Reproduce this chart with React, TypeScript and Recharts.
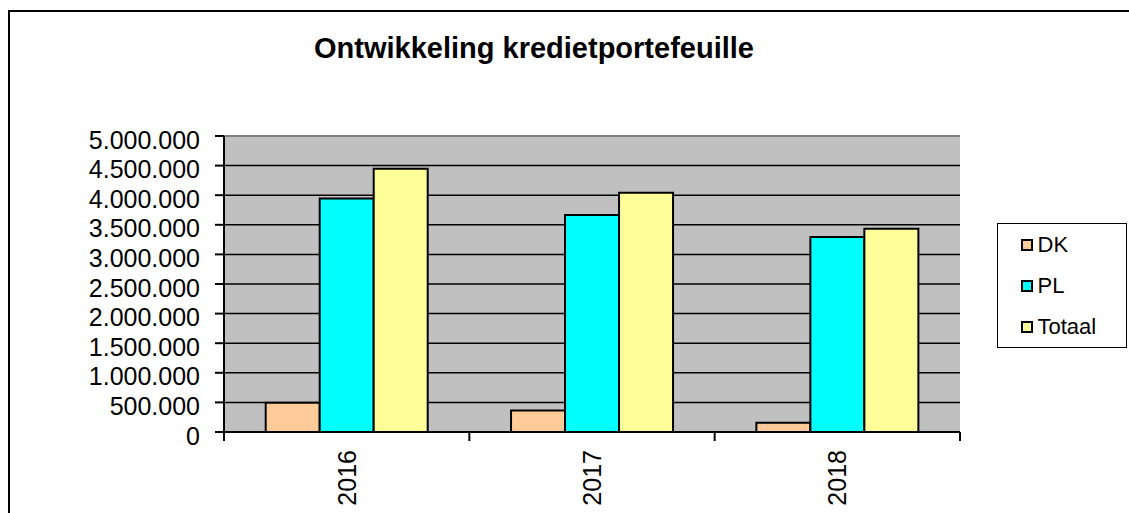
import React from 'react';
import { BarChart, Bar, XAxis, YAxis, CartesianGrid } from 'recharts';

const categories = ['2016', '2017', '2018'];
const dkValues = [494000, 364000, 157000];
const plValues = [3946000, 3664000, 3293000];
const totaalValues = [4445000, 4040000, 3434000];
const yTicks = [0, 500000, 1000000, 1500000, 2000000, 2500000, 3000000, 3500000, 4000000, 4500000, 5000000];

const seriesMeta = [
  { key: 'DK', color: '#FFCC99' },
  { key: 'PL', color: '#00FFFF' },
  { key: 'Totaal', color: '#FFFF99' },
];

const data = categories.map((c, i) => ({
  year: c,
  DK: dkValues[i],
  PL: plValues[i],
  Totaal: totaalValues[i],
}));

const FONT = '"Liberation Sans", Arial, sans-serif';

const fmt = (v: number) => String(v).replace(/\B(?=(\d{3})+(?!\d))/g, '.');

const YTick = (props: any) => {
  const { x, y, payload } = props;
  return (
    <text x={x} y={y} dy={12.5} textAnchor="end" fontSize={25} fontFamily={FONT} fill="#000">
      {fmt(payload.value)}
    </text>
  );
};

const XTick = (props: any) => {
  const { x, y, payload, index } = props;
  const half = payload && typeof payload.offset === 'number' && payload.offset > 0 ? payload.offset : (960 - 224) / categories.length / 2;
  const lx = x - half;
  const last = index === categories.length - 1;
  return (
    <g>
      <line x1={lx} y1={y} x2={lx} y2={y + 9} stroke="#000" strokeWidth={2} />
      {last && <line x1={x + half} y1={y} x2={x + half} y2={y + 9} stroke="#000" strokeWidth={2} />}
      <text
        x={x}
        y={y + 18}
        transform={`rotate(-90, ${x}, ${y + 18})`}
        textAnchor="end"
        dy="0.36em"
        fontSize={25}
        fontFamily={FONT}
        fill="#000"
      >
        {payload.value}
      </text>
    </g>
  );
};

const renderHLine = (p: any) => {
  const isTop = p.index === yTicks.length - 1 || p.y1 <= 137;
  return (
    <line
      key={p.key}
      x1={p.x1}
      y1={p.y1}
      x2={p.x2}
      y2={p.y2}
      stroke={isTop ? '#808080' : '#000'}
      strokeWidth={isTop ? 2 : 1.5}
    />
  );
};

export default function App() {
  return (
    <div style={{ position: 'absolute', left: 0, top: 0, width: 1129, height: 513, overflow: 'hidden', background: '#fff' }}>
      <style>{'html,body{margin:0;overflow:hidden;}'}</style>
      <div
        style={{
          position: 'absolute',
          left: 8,
          top: 10,
          width: 1300,
          height: 700,
          border: '2px solid #000',
          boxSizing: 'border-box',
        }}
      />
      <div
        style={{
          position: 'absolute',
          left: 0,
          top: 34,
          width: 1068,
          textAlign: 'center',
          fontFamily: FONT,
          fontWeight: 'bold',
          fontSize: 29,
          lineHeight: '29px',
          color: '#000',
        }}
      >
        Ontwikkeling kredietportefeuille
      </div>
      <div style={{ position: 'absolute', left: 0, top: 0 }}>
        <BarChart
          width={1129}
          height={513}
          data={data}
          margin={{ top: 136, right: 169, bottom: 0, left: 10 }}
          barCategoryGap="17%"
          barGap={0}
        >
          <CartesianGrid fill="#C0C0C0" vertical={false} horizontal={renderHLine} stroke="#000" />
          <XAxis
            dataKey="year"
            height={81}
            tickSize={0}
            tickMargin={0}
            tickLine={false}
            axisLine={{ stroke: '#000', strokeWidth: 2 }}
            tick={<XTick />}
            interval={0}
          />
          <YAxis
            width={214}
            domain={[0, 5000000]}
            ticks={yTicks}
            interval={0}
            tickSize={9}
            tickMargin={15}
            tickLine={{ stroke: '#000', strokeWidth: 2 }}
            axisLine={{ stroke: '#000', strokeWidth: 2 }}
            tick={<YTick />}
          />
          <YAxis
            yAxisId="right"
            orientation="right"
            width={0}
            tick={false}
            tickLine={false}
            axisLine={{ stroke: '#808080', strokeWidth: 2 }}
          />
          {seriesMeta.map((s) => (
            <Bar
              key={s.key}
              dataKey={s.key}
              fill={s.color}
              stroke="#000"
              strokeWidth={2}
              isAnimationActive={false}
            />
          ))}
        </BarChart>
      </div>
      <div
        style={{
          position: 'absolute',
          left: 997,
          top: 223,
          width: 130,
          height: 125,
          border: '1.5px solid #000',
          boxSizing: 'border-box',
          background: '#fff',
          paddingLeft: 22.5,
        }}
      >
        {seriesMeta.map((s) => (
          <div key={s.key} style={{ display: 'flex', alignItems: 'center', height: 41 }}>
            <div
              style={{
                width: 12,
                height: 12,
                boxSizing: 'border-box',
                border: '2px solid #000',
                background: s.color,
                marginRight: 5,
              }}
            />
            <span style={{ fontFamily: FONT, fontSize: 22, lineHeight: '41px', color: '#000' }}>{s.key}</span>
          </div>
        ))}
      </div>
    </div>
  );
}
